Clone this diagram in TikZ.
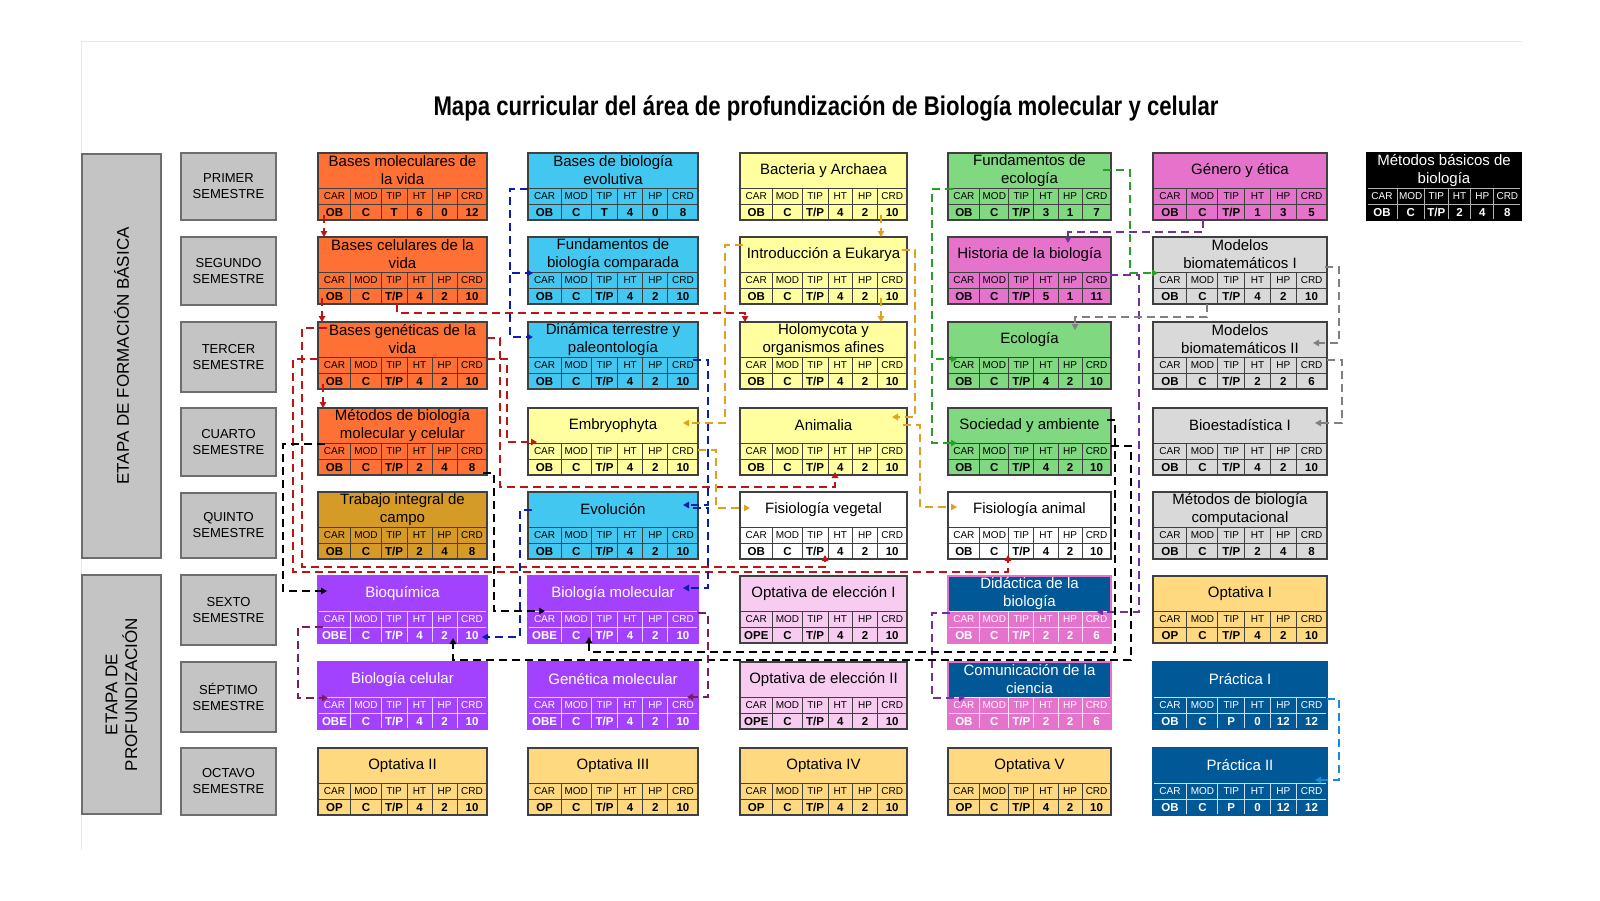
\documentclass[tikz,border=0pt]{standalone}
\usepackage{fontspec}
\setmainfont{Liberation Sans}
\usepackage{graphicx}
\usetikzlibrary{arrows.meta, calc}

\definecolor{cOrange}{RGB}{255,112,52}
\definecolor{cGold}{RGB}{214,154,38}
\definecolor{cCyan}{RGB}{66,200,240}
\definecolor{cYellow}{RGB}{255,255,160}
\definecolor{cGreen}{RGB}{128,216,128}
\definecolor{cMagenta}{RGB}{229,115,204}
\definecolor{cGray}{RGB}{217,217,217}
\definecolor{cPurple}{RGB}{162,66,255}
\definecolor{cLPink}{RGB}{248,204,240}
\definecolor{cNavy}{RGB}{0,88,150}
\definecolor{cOpt}{RGB}{255,217,128}
\definecolor{cEdge}{RGB}{64,64,64}
\definecolor{cStage}{RGB}{196,196,196}
\definecolor{cStageEdge}{RGB}{110,110,110}
\definecolor{cFrame}{RGB}{232,232,232}
\definecolor{lRed}{RGB}{190,20,20}
\definecolor{lBlue}{RGB}{10,30,170}
\definecolor{lGold}{RGB}{225,160,30}
\definecolor{lGreen}{RGB}{40,160,40}
\definecolor{lPurple}{RGB}{112,48,160}
\definecolor{lGray}{RGB}{128,128,128}
\definecolor{lPlum}{RGB}{120,30,90}
\definecolor{lSky}{RGB}{30,136,216}

\tikzset{scheme/.code n args={5}{\def\ttlfill{#1}\def\tblfill{#2}\def\gridcol{#3}\def\edgecol{#4}\def\txtcol{#5}}}

% course box: name, left x, top y, width, scheme, title, values
\newcommand\course[7]{%
  \tikzset{#5}%
  \node[boxnode, minimum width=#4*0.5pt] (#1) at (#2,#3) {};
  \fill[\tblfill] (#1.north west) rectangle (#1.south east);
  \fill[\ttlfill] (#1.north west) rectangle ($(#1.north east)+(0,35)$);
  \draw[grid, \gridcol] ($(#1.north west)+(0,35)$) -- ++(#4,0)
    ($(#1.north west)+(0,51)$) -- ++(#4,0);
  \foreach \f in {.195,.373,.527,.675,.823}
    \draw[grid, \gridcol] ($(#1.north west)+(\f*#4,35)$) -- ++(0,32);
  \draw[edge, \edgecol] (#1.north west) rectangle (#1.south east);
  \node[ctitle, text=\txtcol] (#1-t) at ($(#1.north)+(0,17.5)$) {#6};
  \foreach \h [count=\i] in {CAR,MOD,TIP,HT,HP,CRD} {
    \pgfmathsetmacro\cx{{0.0975,0.284,0.45,0.601,0.749,0.9115}[\i-1]*#4}
    \node[chead, text=\txtcol] (#1-h\i) at ($(#1.north west)+(\cx,43)$) {\h};}
  \foreach \v [count=\i] in {#7} {
    \pgfmathsetmacro\cx{{0.0975,0.284,0.45,0.601,0.749,0.9115}[\i-1]*#4}
    \node[cval, text=\txtcol] (#1-v\i) at ($(#1.north west)+(\cx,59)$) {\v};}
}

\begin{document}
\begin{tikzpicture}[x=0.5pt, y=-0.5pt,
  boxnode/.style={anchor=north west, inner sep=0pt, outer sep=0pt, minimum height=33.5pt},
  grid/.style={line width=0.5pt},
  edge/.style={line width=0.6pt},
  ctitle/.style={font=\fontsize{7.5pt}{9pt}\selectfont, align=center, inner sep=0pt},
  chead/.style={font=\fontsize{5pt}{6pt}\selectfont, inner sep=0pt, text height=3.6pt, text depth=0pt},
  cval/.style={font=\fontsize{5.75pt}{7pt}\selectfont\bfseries, inner sep=0pt, text height=4.1pt, text depth=0pt},
  orangebox/.style={scheme={cOrange}{cOrange}{cEdge}{cEdge}{black}},
  goldbox/.style={scheme={cGold}{cGold}{cEdge}{cEdge}{black}},
  cyanbox/.style={scheme={cCyan}{cCyan}{cEdge}{cEdge}{black}},
  yellowbox/.style={scheme={cYellow}{cYellow}{cEdge}{cEdge}{black}},
  greenbox/.style={scheme={cGreen}{cGreen}{cEdge}{cEdge}{black}},
  magentabox/.style={scheme={cMagenta}{cMagenta}{cEdge}{cEdge}{black}},
  graybox/.style={scheme={cGray}{cGray}{cEdge}{cEdge}{black}},
  whitebox/.style={scheme={white}{white}{cEdge}{cEdge}{black}},
  lpinkbox/.style={scheme={cLPink}{cLPink}{cEdge}{cEdge}{black}},
  optbox/.style={scheme={cOpt}{cOpt}{cEdge}{cEdge}{black}},
  blackbox/.style={scheme={black}{black}{white!70!black}{black}{white}},
  purplebox/.style={scheme={cPurple}{cPurple}{white!75!cPurple}{cPurple}{white}},
  navypinkbox/.style={scheme={cNavy}{cMagenta}{white!80!cMagenta}{cMagenta}{white}},
  navybox/.style={scheme={cNavy}{cNavy}{white!80!cNavy}{cNavy}{white}},
  sembox/.style={draw=cStageEdge, fill=cStage, line width=0.6pt, minimum width=47.5pt,
                 align=center, inner sep=0pt, font=\fontsize{6.5pt}{8pt}\selectfont},
  stagebox/.style={draw=cStageEdge, fill=cStage, line width=0.6pt, minimum width=39.5pt, inner sep=0pt},
  stagelbl/.style={rotate=90, align=center, font=\fontsize{8.5pt}{9.8pt}\selectfont},
  link/.style={line width=1pt, dash pattern=on 4pt off 2.5pt, -{Triangle[length=3pt,width=3.2pt]}},
]
\useasboundingbox (0,0) rectangle (1600,900);
\fill[white] (0,0) rectangle (1600,900);

% frame and title
\draw[cFrame, line width=0.5pt] (81,850) -- (81,41) -- (1522,41);
\node[anchor=base] (title) at (826,115)
  {\resizebox{392.5pt}{\height}{\fontsize{13.5pt}{16pt}\selectfont\bfseries
   Mapa curricular del área de profundización de Biología molecular y celular}};

% stages
\node[stagebox, minimum height=202pt] (stage1) at (121.5,356) {};
\node[stagelbl] (stage1-l) at (stage1) {ETAPA DE FORMACIÓN BÁSICA};
\node[stagebox, minimum height=119.5pt] (stage2) at (121.5,694.5) {};
\node[stagelbl] (stage2-l) at (stage2) {ETAPA DE\\PROFUNDIZACIÓN};

% semesters
\foreach \lbl/\top/\bot [count=\i] in {PRIMER/153/220, SEGUNDO/237/305, TERCER/322/392,
    CUARTO/408/476, QUINTO/493/558, SEXTO/575/645, SÉPTIMO/662/732, OCTAVO/748/815}
  \node[sembox, minimum height={(\bot-\top)*0.5pt}] (sem\i) at (228.5,{(\top+\bot)/2}) {\lbl\\SEMESTRE};

% first semester
\course{bmol}{318}{153}{169}{orangebox}{Bases moleculares de\\la vida}{OB,C,T,6,0,12}
\course{bevo}{528}{153}{170}{cyanbox}{Bases de biología\\evolutiva}{OB,C,T,4,0,8}
\course{bact}{740}{153}{167}{yellowbox}{Bacteria y Archaea}{OB,C,T/P,4,2,10}
\course{feco}{948}{153}{163}{greenbox}{Fundamentos de\\ecología}{OB,C,T/P,3,1,7}
\course{genero}{1153}{153}{174}{magentabox}{Género y ética}{OB,C,T/P,1,3,5}
\course{mbas}{1367}{153}{154}{blackbox}{Métodos básicos de\\biología}{OB,C,T/P,2,4,8}
% second semester
\course{bcel}{318}{237}{169}{orangebox}{Bases celulares de la\\vida}{OB,C,T/P,4,2,10}
\course{fcomp}{528}{237}{170}{cyanbox}{Fundamentos de\\biología comparada}{OB,C,T/P,4,2,10}
\course{euk}{740}{237}{167}{yellowbox}{Introducción a Eukarya}{OB,C,T/P,4,2,10}
\course{hist}{948}{237}{163}{magentabox}{Historia de la biología}{OB,C,T/P,5,1,11}
\course{mbio1}{1153}{237}{174}{graybox}{Modelos\\biomatemáticos I}{OB,C,T/P,4,2,10}
% third semester
\course{bgen}{318}{322}{169}{orangebox}{Bases genéticas de la\\vida}{OB,C,T/P,4,2,10}
\course{dinam}{528}{322}{170}{cyanbox}{Dinámica terrestre y\\paleontología}{OB,C,T/P,4,2,10}
\course{holo}{740}{322}{167}{yellowbox}{Holomycota y\\organismos afines}{OB,C,T/P,4,2,10}
\course{ecol}{948}{322}{163}{greenbox}{Ecología}{OB,C,T/P,4,2,10}
\course{mbio2}{1153}{322}{174}{graybox}{Modelos\\biomatemáticos II}{OB,C,T/P,2,2,6}
% fourth semester
\course{mbmc}{318}{408}{169}{orangebox}{Métodos de biología\\molecular y celular}{OB,C,T/P,2,4,8}
\course{embr}{528}{408}{170}{yellowbox}{Embryophyta}{OB,C,T/P,4,2,10}
\course{anim}{740}{408}{167}{yellowbox}{Animalia}{OB,C,T/P,4,2,10}
\course{socamb}{948}{408}{163}{greenbox}{Sociedad y ambiente}{OB,C,T/P,4,2,10}
\course{bioest}{1153}{408}{174}{graybox}{Bioestadística I}{OB,C,T/P,4,2,10}
% fifth semester
\course{tic}{318}{492}{169}{goldbox}{Trabajo integral de\\campo}{OB,C,T/P,2,4,8}
\course{evol}{528}{492}{170}{cyanbox}{Evolución}{OB,C,T/P,4,2,10}
\course{fveg}{740}{492}{167}{whitebox}{Fisiología vegetal}{OB,C,T/P,4,2,10}
\course{fani}{948}{492}{163}{whitebox}{Fisiología animal}{OB,C,T/P,4,2,10}
\course{mcomp}{1153}{492}{174}{graybox}{Métodos de biología\\computacional}{OB,C,T/P,2,4,8}
% sixth semester
\course{bioq}{318}{576}{169}{purplebox}{Bioquímica}{OBE,C,T/P,4,2,10}
\course{biomol}{528}{576}{170}{purplebox}{Biología molecular}{OBE,C,T/P,4,2,10}
\course{opte1}{740}{576}{167}{lpinkbox}{Optativa de elección I}{OPE,C,T/P,4,2,10}
\course{didac}{948}{576}{163}{navypinkbox}{Didáctica de la\\biología}{OB,C,T/P,2,2,6}
\course{opt1}{1153}{576}{174}{optbox}{Optativa I}{OP,C,T/P,4,2,10}
% seventh semester
\course{biocel}{318}{662}{169}{purplebox}{Biología celular}{OBE,C,T/P,4,2,10}
\course{genmol}{528}{662}{170}{purplebox}{Genética molecular}{OBE,C,T/P,4,2,10}
\course{opte2}{740}{662}{167}{lpinkbox}{Optativa de elección II}{OPE,C,T/P,4,2,10}
\course{comun}{948}{662}{163}{navypinkbox}{Comunicación de la\\ciencia}{OB,C,T/P,2,2,6}
\course{prac1}{1153}{662}{174}{navybox}{Práctica I}{OB,C,P,0,12,12}
% eighth semester
\course{opt2}{318}{748}{169}{optbox}{Optativa II}{OP,C,T/P,4,2,10}
\course{opt3}{528}{748}{170}{optbox}{Optativa III}{OP,C,T/P,4,2,10}
\course{opt4}{740}{748}{167}{optbox}{Optativa IV}{OP,C,T/P,4,2,10}
\course{opt5}{948}{748}{163}{optbox}{Optativa V}{OP,C,T/P,4,2,10}
\course{prac2}{1153}{748}{174}{navybox}{Práctica II}{OB,C,P,0,12,12}

% red links
\draw[link, lRed] ($(bmol.north west)+(6,62)$) -- ($(bcel.north west)+(6,0)$);
\draw[link, lRed] ($(bcel.north west)+(4,61)$) -- ($(bgen.north west)+(4,0)$);
\draw[link, lRed] ($(bgen.north west)+(5,62)$) -- ($(mbmc.north west)+(5,0)$);
\draw[link, lRed] ($(bcel.north west)+(79,67)$) -- ++(0,9) -| ($(holo.north west)+(5,0)$);
\draw[link, lRed] ($(bgen.north west)+(169,37)$) -- ++(20,0) |- ($(embr.north west)+(9,34)$);
\draw[link, lRed] ($(bgen.north west)+(169,16)$) -- ++(13,0) -- ++(0,149) -| ($(anim.north west)+(95,64)$);
\draw[link, lRed] ($(bgen.north west)+(9,6)$) -- ++(-25,0) -- ++(0,239) -| ($(fveg.north west)+(85,63)$);
\draw[link, lRed] ($(bgen.north west)+(0,37)$) -- ++(-25,0) -- ++(0,213) -| ($(fani.north west)+(60,63)$);

% blue links
\draw[link, lBlue] ($(bevo.north west)+(0,36)$) -- ++(-18,0) |- ($(fcomp.north west)+(5,36)$);
\draw[link, lBlue] ($(bevo.north west)+(0,36)$) -- ++(-18,0) |- ($(dinam.north west)+(5,15)$);
\draw[link, lBlue] ($(dinam.north west)+(165,38)$) -- ++(15,0) |- ($(evol.north west)+(155,13)$);
\draw[link, lBlue] ($(evol.north west)+(165,16)$) -- ++(15,0) |- ($(biomol.north west)+(155,12)$);
\draw[link, lBlue] ($(evol.north west)+(4,18)$) -- ++(-12,0) |- ($(bioq.north west)+(164,61)$);

% gold links
\draw[link, lGold] ($(bact.north west)+(141,62)$) -- ($(euk.north west)+(141,0)$);
\draw[link, lGold] ($(euk.north west)+(141,61)$) -- ($(holo.north west)+(141,0)$);
\draw[link, lGold] ($(euk.north west)+(3,8)$) -- ++(-18,0) |- ($(embr.north west)+(155,15)$);
\draw[link, lGold] ($(euk.north west)+(162,13)$) -- ++(13,0) |- ($(anim.north west)+(152,9)$);
\draw[link, lGold] ($(anim.north west)+(163,17)$) -- ++(17,0) |- ($(fani.north west)+(9,15)$);
\draw[link, lGold] ($(embr.north west)+(170,42)$) -- ++(18,0) |- ($(fveg.north west)+(10,16)$);

% green links
\draw[link, lGreen] ($(feco.north west)+(5,36)$) -- ++(-21,0) |- ($(ecol.north west)+(9,37)$);
\draw[link, lGreen] ($(feco.north west)+(5,36)$) -- ++(-21,0) |- ($(socamb.north west)+(9,35)$);
\draw[link, lGreen] ($(feco.north west)+(155,17)$) -- ++(27,0) |- ($(mbio1.north west)+(5,36)$);

% purple links
\draw[link, lPurple] ($(genero.north west)+(50,67)$) -- ++(0,12) -| ($(hist.north west)+(120,6)$);
\draw[link, lPurple] ($(hist.north west)+(162,38)$) -- ++(29,0) |- ($(didac.north west)+(149,36)$);
\draw[link, lPurple] ($(didac.north west)+(2,37)$) -- ++(-18,0) |- ($(comun.north west)+(17,36)$);

% gray links
\draw[link, lGray] ($(mbio1.north west)+(172,30)$) -- ++(14,0) |- ($(mbio2.north west)+(160,21)$);
\draw[link, lGray] ($(mbio2.north west)+(174,38)$) -- ++(15,0) |- ($(bioest.north west)+(162,15)$);
\draw[link, lGray] ($(mbio1.north west)+(54,67)$) -- ++(0,13) -| ($(ecol.north west)+(127,8)$);

% black links
\draw[link, black] ($(mbmc.north west)+(7,36)$) -- ++(-42,0) |- ($(bioq.north west)+(9,15)$);
\draw[link, black] ($(mbmc.north west)+(165,65)$) -- ++(11,0) |- ($(biomol.north west)+(17,35)$);
\draw[link, black] ($(socamb.north west)+(159,12)$) -- ++(8,0) -- ++(0,232) -| ($(biomol.north west)+(61,61)$);
\draw[link, black] ($(socamb.north west)+(163,38)$) -- ++(20,0) -- ++(0,214) -| ($(bioq.north west)+(135,62)$);

% plum and sky links
\draw[link, lPlum] ($(bioq.north west)+(5,51)$) -- ++(-25,0) |- ($(biocel.north west)+(10,36)$);
\draw[link, lPlum] ($(biomol.north west)+(170,37)$) -- ++(10,0) |- ($(genmol.north west)+(159,35)$);
\draw[link, lSky] ($(prac1.north west)+(174,37)$) -- ++(12,0) |- ($(prac2.north west)+(162,32)$);
\end{tikzpicture}
\end{document}
